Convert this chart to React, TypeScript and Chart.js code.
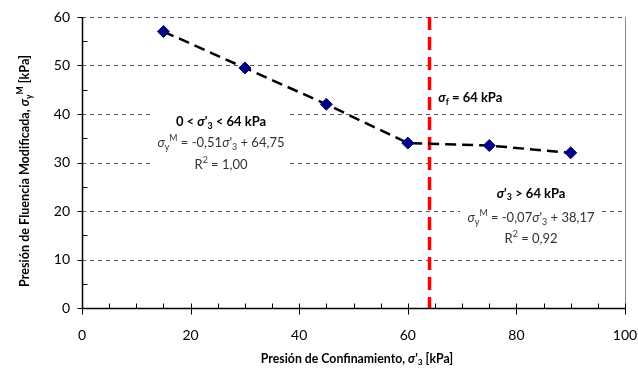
import React, { useEffect, useRef } from "react";
import { Chart, registerables } from "chart.js";

Chart.register(...registerables);

const xValues = [15, 30, 45, 60, 75, 90];
const yValues = [57, 49.5, 42, 34, 33.5, 32];
const xTicks = [0, 20, 40, 60, 80, 100];
const yTicks = [0, 10, 20, 30, 40, 50, 60];
const limitX = 64;

const FONT = "Lato, 'Open Sans', sans-serif";

type Seg = { t: string; b?: boolean; i?: boolean; sub?: boolean; sup?: boolean };

function segFont(s: Seg, size: number) {
  const sz = s.sub || s.sup ? size * 0.68 : size;
  return `${s.i ? "italic " : ""}${s.b ? "bold " : ""}${sz}px ${FONT}`;
}

function drawRich(ctx: CanvasRenderingContext2D, segs: Seg[], x: number, y: number, size: number, color: string, align: "left" | "center" = "center") {
  ctx.save();
  ctx.textBaseline = "middle";
  ctx.textAlign = "left";
  let w = 0;
  for (const s of segs) {
    ctx.font = segFont(s, size);
    w += ctx.measureText(s.t).width;
  }
  let cx = align === "center" ? x - w / 2 : x;
  ctx.fillStyle = color;
  for (const s of segs) {
    ctx.font = segFont(s, size);
    const dy = s.sub ? size * 0.3 : s.sup ? -size * 0.35 : 0;
    ctx.fillText(s.t, cx, y + dy);
    cx += ctx.measureText(s.t).width;
  }
  ctx.restore();
}

const overlay = {
  id: "overlay",
  beforeDatasetsDraw(chart: any) {
    const ctx: CanvasRenderingContext2D = chart.ctx;
    const xs = chart.scales.x;
    const ys = chart.scales.y;
    const { left, right, top, bottom } = chart.chartArea;
    ctx.save();
    // grid lines
    ctx.strokeStyle = "#555";
    ctx.lineWidth = 1;
    ctx.setLineDash([4, 4]);
    for (const v of yTicks) {
      if (v === 0) continue;
      const py = Math.round(ys.getPixelForValue(v)) + 0.5;
      ctx.beginPath();
      ctx.moveTo(left, py);
      ctx.lineTo(right, py);
      ctx.stroke();
    }
    ctx.setLineDash([]);
    // right border
    ctx.strokeStyle = "#888";
    ctx.beginPath();
    ctx.moveTo(Math.round(right) + 0.5, top);
    ctx.lineTo(Math.round(right) + 0.5, bottom);
    ctx.stroke();
    // white boxes behind annotations
    ctx.fillStyle = "#fff";
    const box = (x1: number, x2: number, y1: number, y2: number) => {
      const a = xs.getPixelForValue(x1), b = xs.getPixelForValue(x2);
      const c = ys.getPixelForValue(y1), d = ys.getPixelForValue(y2);
      ctx.fillRect(a, c, b - a, d - c);
    };
    box(12.9, 38.3, 41.2, 27.1);
    box(69.6, 95.8, 25.9, 12.2);
    // red vertical line
    ctx.strokeStyle = "#ff0000";
    ctx.lineWidth = 3.5;
    ctx.setLineDash([13, 7]);
    const rx = xs.getPixelForValue(limitX);
    ctx.beginPath();
    ctx.moveTo(rx, top);
    ctx.lineTo(rx, bottom);
    ctx.stroke();
    ctx.setLineDash([]);
    // axes
    ctx.strokeStyle = "#000";
    ctx.lineWidth = 1.5;
    const bx = Math.round(left) + 0.5;
    const by = Math.round(bottom) + 0.5;
    ctx.beginPath();
    ctx.moveTo(bx, top);
    ctx.lineTo(bx, by);
    ctx.lineTo(right, by);
    ctx.stroke();
    ctx.lineWidth = 1;
    // x ticks
    for (let v = 0; v <= 100; v += 5) {
      const px = Math.round(xs.getPixelForValue(v)) + 0.5;
      const major = v % 20 === 0;
      ctx.beginPath();
      ctx.moveTo(px, by - 5);
      ctx.lineTo(px, major ? by + 6 : by);
      ctx.stroke();
    }
    // y ticks
    for (let v = 0; v <= 60; v += 5) {
      const py = Math.round(ys.getPixelForValue(v)) + 0.5;
      const major = v % 10 === 0;
      ctx.beginPath();
      if (major) {
        ctx.moveTo(bx - 5, py);
        ctx.lineTo(bx, py);
      } else {
        ctx.moveTo(bx, py);
        ctx.lineTo(bx + 5, py);
      }
      ctx.stroke();
    }
    // tick labels
    ctx.fillStyle = "#000";
    ctx.font = `14px ${FONT}`;
    ctx.textBaseline = "middle";
    ctx.textAlign = "right";
    for (const v of yTicks) {
      ctx.fillText(String(v), left - 12, ys.getPixelForValue(v));
    }
    ctx.textAlign = "center";
    for (const v of xTicks) {
      ctx.fillText(String(v), xs.getPixelForValue(v), bottom + 27);
    }
    ctx.restore();
  },
  afterDatasetsDraw(chart: any) {
    const ctx: CanvasRenderingContext2D = chart.ctx;
    const xs = chart.scales.x;
    const ys = chart.scales.y;
    const P = (x: number, y: number) => [xs.getPixelForValue(x), ys.getPixelForValue(y)];
    const S = 13;
    const grey = "#333";
    let p = P(25.6, 38.3);
    drawRich(ctx, [{ t: "0 < ", b: true }, { t: "σ", b: true, i: true }, { t: "'", b: true }, { t: "3", b: true, sub: true }, { t: " < 64 kPa", b: true }], p[0], p[1], S, "#000");
    p = P(25.6, 34.0);
    drawRich(ctx, [{ t: "σ", i: true }, { t: "y", sub: true }, { t: "M", sup: true }, { t: " = -0,51" }, { t: "σ", i: true }, { t: "'" }, { t: "3", sub: true }, { t: " + 64,75" }], p[0], p[1], S, grey);
    p = P(25.6, 29.5);
    drawRich(ctx, [{ t: "R" }, { t: "2", sup: true }, { t: " = 1,00" }], p[0], p[1], S, grey);
    p = P(65.6, 43.3);
    drawRich(ctx, [{ t: "σ", b: true, i: true }, { t: "f", b: true, sub: true }, { t: " = 64 kPa", b: true }], p[0], p[1], S, "#000", "left");
    p = P(82.7, 23.6);
    drawRich(ctx, [{ t: "σ", b: true, i: true }, { t: "'", b: true }, { t: "3", b: true, sub: true }, { t: " > 64 kPa", b: true }], p[0], p[1], S, "#000");
    p = P(82.7, 18.6);
    drawRich(ctx, [{ t: "σ", i: true }, { t: "y", sub: true }, { t: "M", sup: true }, { t: " = -0,07" }, { t: "σ", i: true }, { t: "'" }, { t: "3", sub: true }, { t: " + 38,17" }], p[0], p[1], S, grey);
    p = P(82.7, 14.3);
    drawRich(ctx, [{ t: "R" }, { t: "2", sup: true }, { t: " = 0,92" }], p[0], p[1], S, grey);

    // axis titles
    drawRich(ctx, [{ t: "Presión de Confinamiento, ", b: true }, { t: "σ", b: true, i: true }, { t: "'", b: true }, { t: "3", b: true, sub: true }, { t: " [kPa]", b: true }], 357, 359, 12.3, "#000");
    ctx.save();
    ctx.translate(25, 171);
    ctx.rotate(-Math.PI / 2);
    drawRich(ctx, [{ t: "Presión de Fluencia Modificada, ", b: true }, { t: "σ", b: true, i: true }, { t: "y", b: true, sub: true }, { t: "M", b: true, sup: true }, { t: " [kPa]", b: true }], 0, 0, 12.6, "#000");
    ctx.restore();
  },
};

export default function App() {
  const ref = useRef<HTMLCanvasElement>(null);
  useEffect(() => {
    if (!ref.current) return;
    const chart = new Chart(ref.current, {
      type: "scatter",
      data: {
        datasets: [
          {
            data: xValues.map((x, i) => ({ x, y: yValues[i] })),
            showLine: true,
            borderColor: "#000",
            borderWidth: 2.5,
            borderDash: [11, 6],
            pointStyle: "rectRot",
            pointRadius: 6,
            pointBackgroundColor: "#000080",
            pointBorderColor: "#000080",
            pointBorderWidth: 1,
          },
        ],
      },
      options: {
        animation: false,
        responsive: true,
        maintainAspectRatio: false,
        layout: { padding: { left: 74, right: 13, top: 17, bottom: 59 } },
        plugins: { legend: { display: false }, tooltip: { enabled: false } },
        scales: {
          x: {
            type: "linear",
            min: 0,
            max: 100,
            ticks: { display: false },
            grid: { display: false },
            border: { display: false },
          },
          y: {
            type: "linear",
            min: 0,
            max: 60,
            ticks: { display: false },
            grid: { display: false },
            border: { display: false },
          },
        },
      },
      plugins: [overlay],
    });
    return () => chart.destroy();
  }, []);
  return (
    <div style={{ position: "fixed", left: 0, top: 0, width: 638, height: 375, background: "#fff" }}>
      <canvas ref={ref} />
    </div>
  );
}
